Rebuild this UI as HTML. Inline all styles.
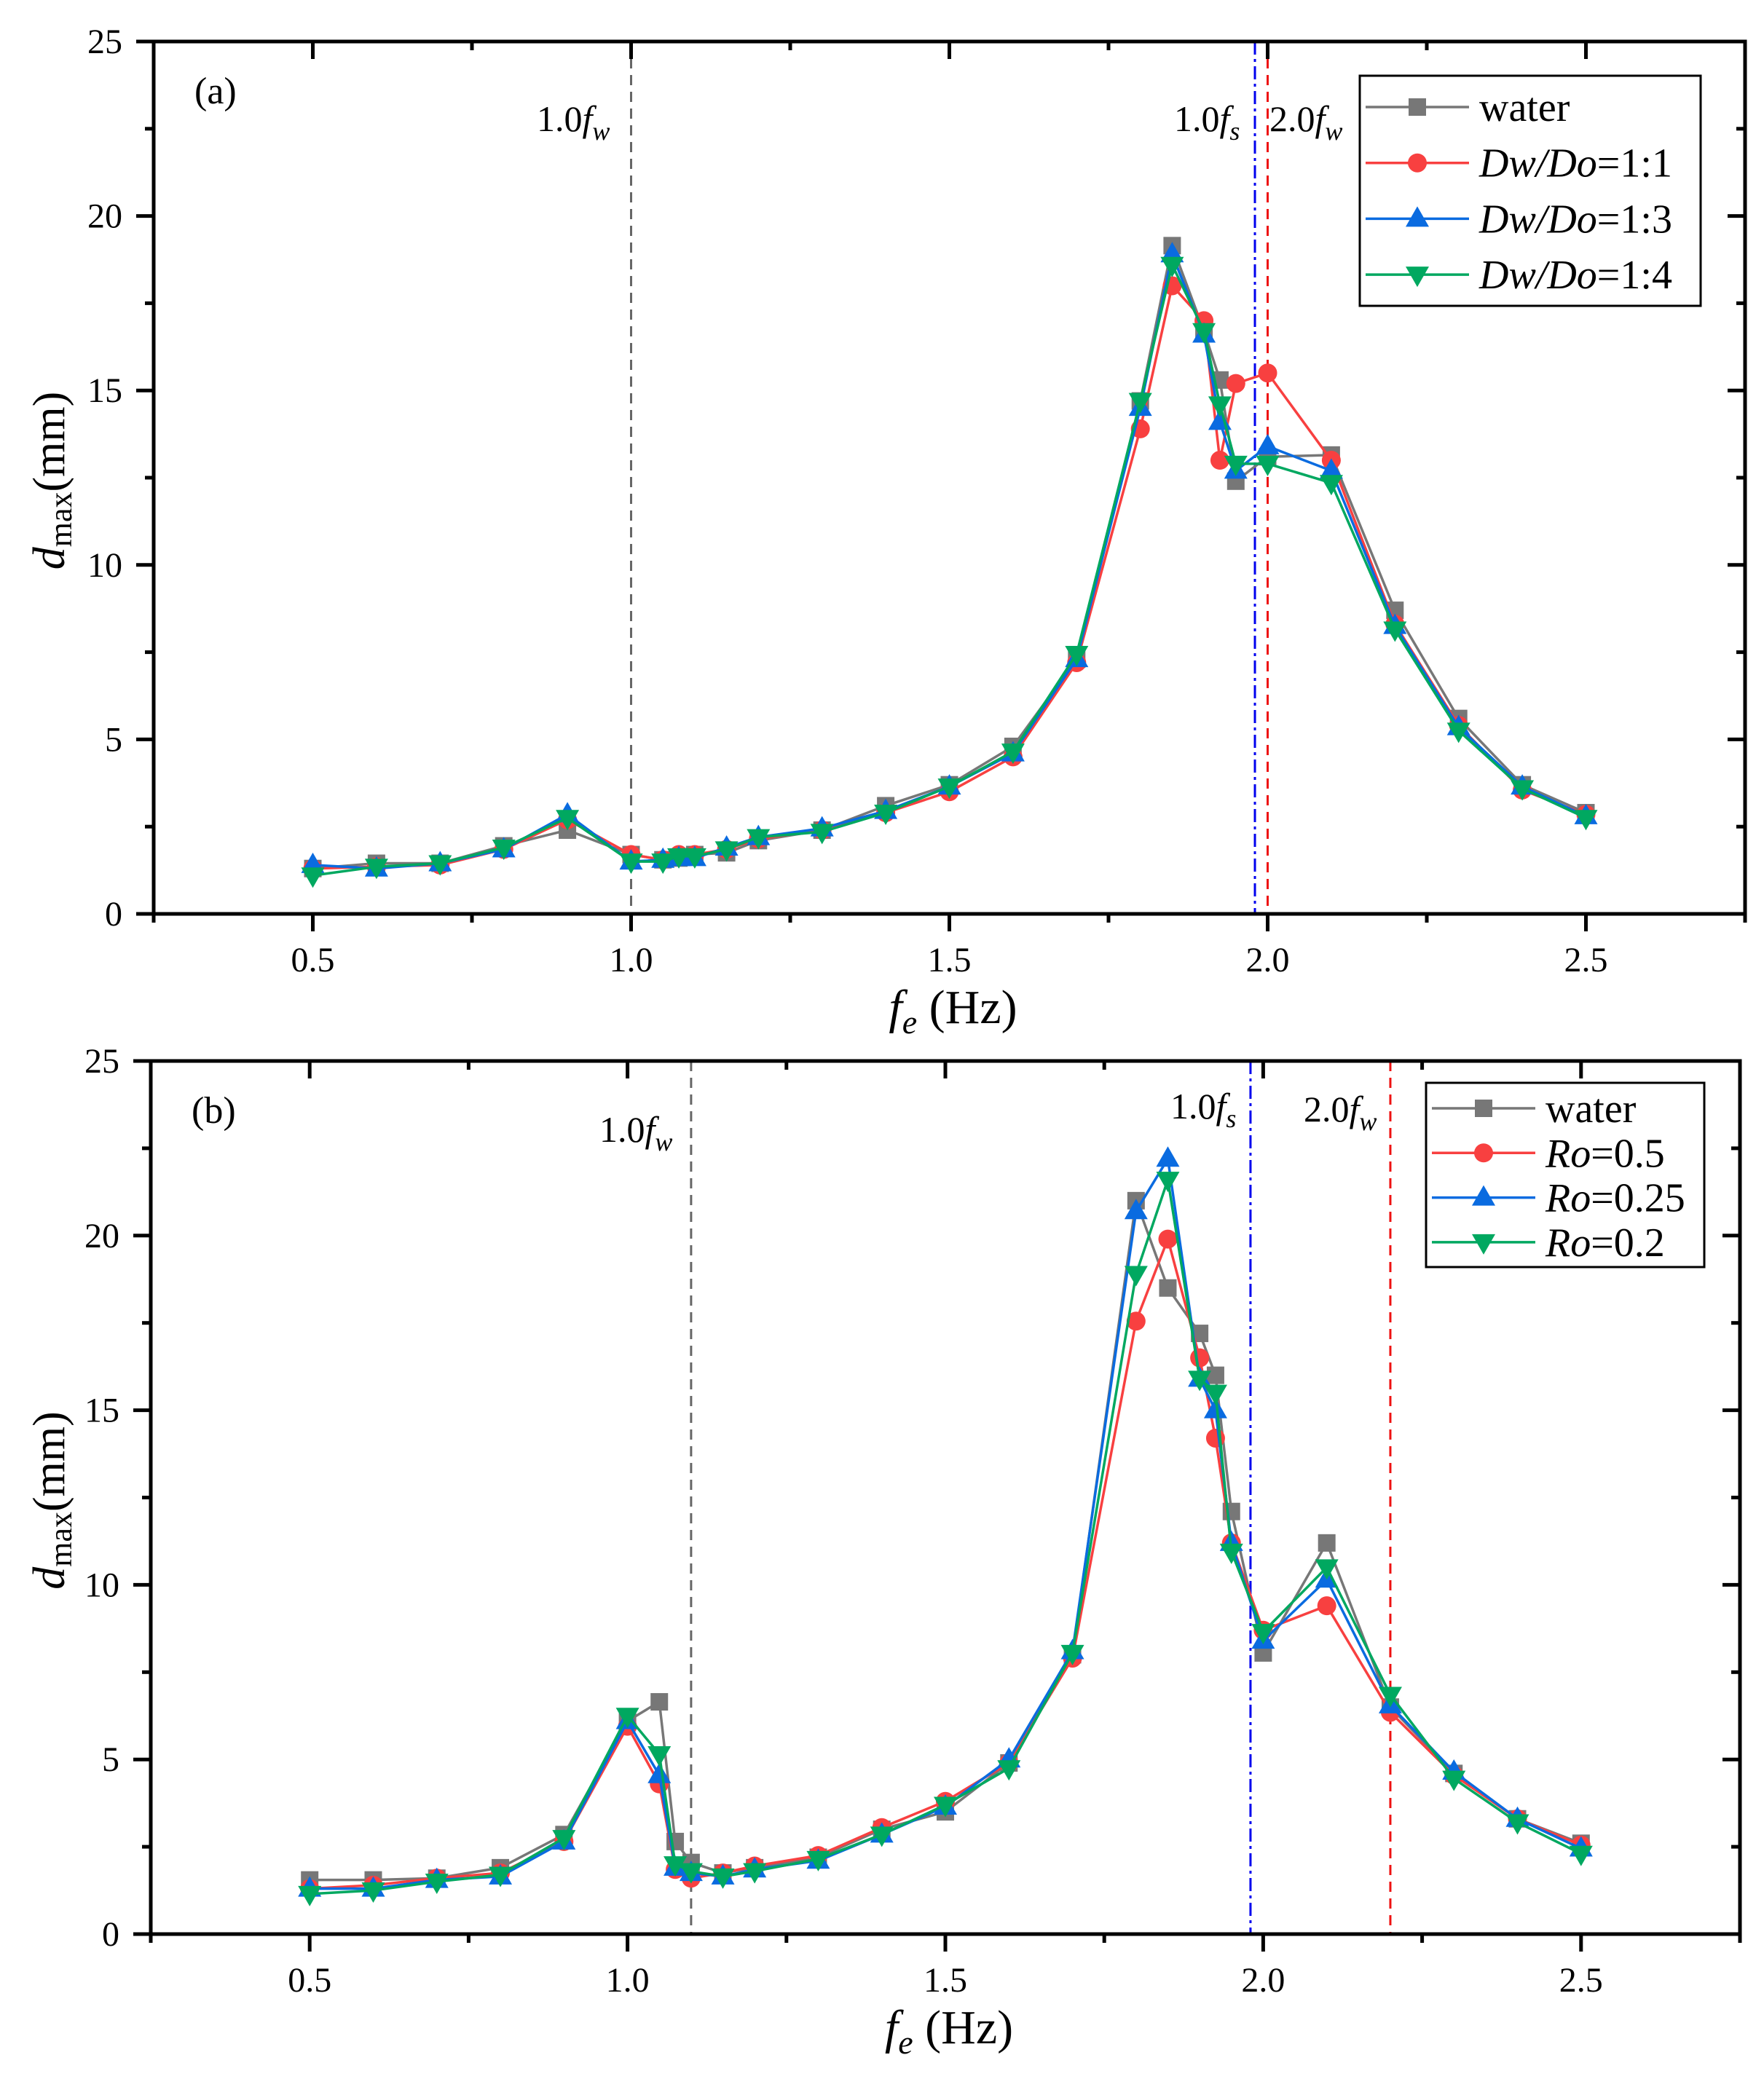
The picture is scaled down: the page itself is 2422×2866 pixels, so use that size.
<!DOCTYPE html>
<html><head><meta charset="utf-8">
<style>
html,body{margin:0;padding:0;background:#fff;}
svg{display:block;font-family:"Liberation Serif",serif;}
</style></head>
<body>
<svg id="fig" width="2422" height="2866" viewBox="0 0 2422 2866" xmlns="http://www.w3.org/2000/svg">
<rect width="2422" height="2866" fill="#fff"/>
<g id="panelA"></g>
<g id="panelB"></g>
</svg>
<script>
// ---- data ----
const xA = [0.5,0.6,0.7,0.8,0.9,1.0,1.05,1.075,1.1,1.15,1.2,1.3,1.4,1.5,1.6,1.7,1.8,1.85,1.9,1.925,1.95,2.0,2.1,2.2,2.3,2.4,2.5];
const waterA = [1.3,1.45,1.45,1.95,2.4,1.7,1.55,1.6,1.7,1.75,2.1,2.4,3.1,3.7,4.8,7.3,14.7,19.15,16.7,15.3,12.4,13.1,13.15,8.7,5.6,3.7,2.9];
const dw11A = [1.3,1.35,1.4,1.85,2.7,1.7,1.55,1.7,1.7,1.85,2.15,2.4,2.9,3.5,4.5,7.2,13.9,18.0,17.0,13.0,15.2,15.5,13.0,8.3,5.4,3.55,2.85];
const dw13A = [1.4,1.3,1.45,1.85,2.85,1.5,1.55,1.6,1.6,1.9,2.2,2.45,2.95,3.65,4.6,7.3,14.5,18.9,16.6,14.1,12.7,13.4,12.7,8.25,5.35,3.65,2.8];
const dw14A = [1.1,1.35,1.45,1.9,2.75,1.5,1.5,1.65,1.65,1.85,2.2,2.35,2.9,3.65,4.65,7.45,14.7,18.6,16.7,14.6,12.9,12.9,12.35,8.15,5.25,3.6,2.75];
const xB = [0.5,0.6,0.7,0.8,0.9,1.0,1.05,1.075,1.1,1.15,1.2,1.3,1.4,1.5,1.6,1.7,1.8,1.85,1.9,1.925,1.95,2.0,2.1,2.2,2.3,2.4,2.5];
const waterB = [1.55,1.55,1.6,1.9,2.85,6.1,6.65,2.65,2.05,1.75,1.9,2.2,3.0,3.5,4.9,8.0,21.0,18.5,17.2,16.0,12.1,8.05,11.2,6.5,4.6,3.3,2.6];
const ro05B = [1.3,1.4,1.6,1.75,2.65,5.95,4.3,1.85,1.6,1.75,1.95,2.25,3.05,3.8,4.9,7.9,17.55,19.9,16.5,14.2,11.2,8.7,9.4,6.35,4.55,3.3,2.55];
const ro025B = [1.3,1.3,1.55,1.65,2.65,6.1,4.55,1.9,1.75,1.65,1.85,2.1,2.85,3.65,5.0,8.1,20.7,22.2,15.9,15.0,11.2,8.4,10.15,6.55,4.65,3.3,2.45];
const ro02B = [1.15,1.25,1.5,1.7,2.75,6.25,5.15,2.0,1.8,1.65,1.8,2.15,2.85,3.7,4.75,8.05,18.9,21.6,15.9,15.5,10.95,8.65,10.5,6.85,4.45,3.2,2.3];
const xTickLabels = ["0.5","1.0","1.5","2.0","2.5"];
const xTickVals = [0.5,1.0,1.5,2.0,2.5];
const yTickVals = [0,5,10,15,20,25];
const legendA = ["water","Dw/Do=1:1","Dw/Do=1:3","Dw/Do=1:4"];
const legendB = ["water","Ro=0.5","Ro=0.25","Ro=0.2"];
const vlinesA = [1.0,1.98,2.0];
const vlinesB = [1.1,1.98,2.2];

const NS="http://www.w3.org/2000/svg";
const COLORS=["#777777","#f84040","#0a6be0","#00a860"];
const SHAPES=["square","circle","up","down"];
function mk(tag,attrs,parent){const e=document.createElementNS(NS,tag);for(const k in attrs)e.setAttribute(k,attrs[k]);parent.appendChild(e);return e;}

function marker(g,shape,cx,cy,color){
  let e;
  if(shape==="square") e=mk("rect",{x:cx-12,y:cy-12,width:24,height:24,fill:color},g);
  else if(shape==="circle") e=mk("circle",{cx:cx,cy:cy,r:13,fill:color},g);
  else if(shape==="up") e=mk("polygon",{points:`${cx},${cy-17} ${cx-16},${cy+11} ${cx+16},${cy+11}`,fill:color},g);
  else e=mk("polygon",{points:`${cx},${cy+17} ${cx-16},${cy-11} ${cx+16},${cy-11}`,fill:color},g);
  return e;
}

function panel(root,P,xs,series,labels,vlines,tag,ann){
  const X=v=>P.L+(v-0.25)/2.5*(P.R-P.L);
  const Y=v=>P.B-v/25*(P.B-P.T);
  // vertical reference lines
  const vstyle=[{c:"#666",d:"14,9"},{c:"#0000ee",d:"18,6,4,6"},{c:"#ee1111",d:"14,9"}];
  vlines.forEach((v,i)=>{
    const l=mk("line",{x1:X(v),x2:X(v),y1:P.T,y2:P.B,stroke:vstyle[i].c,"stroke-width":3,"stroke-dasharray":vstyle[i].d},root);
    
    
  });
  // series
  series.forEach((s,si)=>{
    const g=mk("g",{},root);
    
    
    const pts=xs.map((x,i)=>X(x)+","+Y(s[i])).join(" ");
    mk("polyline",{points:pts,fill:"none",stroke:COLORS[si],"stroke-width":3.5,"stroke-linejoin":"round"},g);
    xs.forEach((x,i)=>{
      const m=marker(g,SHAPES[si],X(x),Y(s[i]),COLORS[si]);
      
      
    });
  });
  // axes frame
  const fr=mk("rect",{x:P.L,y:P.T,width:P.R-P.L,height:P.B-P.T,fill:"none",stroke:"#000","stroke-width":5},root);
  
  
  // x ticks
  for(let k=0;k<=10;k++){
    const v=0.25+k*0.25, major=(k%2===1);
    const len=major?24:12;
    mk("line",{x1:X(v),x2:X(v),y1:P.B,y2:P.B+len,stroke:"#000","stroke-width":5},root);
    mk("line",{x1:X(v),x2:X(v),y1:P.T,y2:P.T+len,stroke:"#000","stroke-width":5},root);
  }
  xTickVals.forEach((v,i)=>{
    const t=mk("text",{x:X(v),y:P.B+79,"font-size":48,"text-anchor":"middle"},root);
    t.textContent=xTickLabels[i];
    
    
  });
  // y ticks
  for(let k=0;k<=10;k++){
    const v=k*2.5, major=(k%2===0);
    const len=major?24:12;
    mk("line",{x1:P.L-len,x2:P.L,y1:Y(v),y2:Y(v),stroke:"#000","stroke-width":5},root);
    mk("line",{x1:P.R-len,x2:P.R,y1:Y(v),y2:Y(v),stroke:"#000","stroke-width":5},root);
  }
  yTickVals.forEach(v=>{
    const t=mk("text",{x:P.L-43,y:Y(v)+16,"font-size":48,"text-anchor":"end"},root);
    t.textContent=String(v);
    
    
  });
  // axis titles
  const xt=mk("text",{x:(P.L+P.R)/2+5,y:P.B+150,"font-size":66,"text-anchor":"middle"},root);
  xt.innerHTML='<tspan font-style="italic">f</tspan><tspan font-style="italic" font-size="46" dy="14">e</tspan><tspan dy="-14"> (Hz)</tspan>';
  
  
  const yc=(P.T+P.B)/2+4;
  const yt=mk("text",{x:0,y:0,"font-size":62,"text-anchor":"middle",transform:`translate(88,${yc}) rotate(-90)`},root);
  yt.innerHTML='<tspan font-style="italic">d</tspan><tspan font-size="44" dy="10">max</tspan><tspan dy="-10">(mm)</tspan>';
  
  
  // panel tag
  const pt=mk("text",{x:P.L+56,y:P.T+85,"font-size":52},root);
  pt.textContent=tag;
  
  
  // annotations
  ann.forEach(a=>{
    const t=mk("text",{x:a.x,y:a.y,"font-size":50},root);
    t.innerHTML=`${a.n}<tspan font-style="italic">f</tspan><tspan font-style="italic" font-size="36" dy="12">${a.s}</tspan>`;
    
    
  });
  // legend
  const lg=mk("g",{},root);
  
  
  mk("rect",{x:P.lx,y:P.ly,width:P.lw,height:P.lh,fill:"#fff",stroke:"#000","stroke-width":3},lg);
  labels.forEach((lab,i)=>{
    const ry=P.ly+P.r0+i*P.rs;
    const e=mk("g",{},lg);
    
    
    mk("line",{x1:P.lx+8,x2:P.lx+150,y1:ry,y2:ry,stroke:COLORS[i],"stroke-width":3.5},e);
    marker(e,SHAPES[i],P.lx+79,ry,COLORS[i]);
    const t=mk("text",{x:P.lx+164,y:ry+19,"font-size":56},e);
    if(lab==="water") t.textContent=lab;
    else{const p=lab.split("=");t.innerHTML=`<tspan font-style="italic">${p[0]}</tspan>=${p[1]}`;}
  });
}

panel(document.getElementById("panelA"),
  {L:211,R:2396,T:57,B:1255,lx:1867,ly:104,lw:468,lh:316,r0:43,rs:76.7},
  xA,[waterA,dw11A,dw13A,dw14A],legendA,vlinesA,"(a)",
  [{x:737,y:180,n:"1.0",s:"w"},{x:1612,y:180,n:"1.0",s:"s"},{x:1743,y:180,n:"2.0",s:"w"}]);
panel(document.getElementById("panelB"),
  {L:207,R:2389,T:1457,B:2656,lx:1958,ly:1487,lw:382,lh:253,r0:35,rs:61.3},
  xB,[waterB,ro05B,ro025B,ro02B],legendB,vlinesB,"(b)",
  [{x:823,y:1568,n:"1.0",s:"w"},{x:1607,y:1536,n:"1.0",s:"s"},{x:1790,y:1540,n:"2.0",s:"w"}]);
</script>
</body></html>
